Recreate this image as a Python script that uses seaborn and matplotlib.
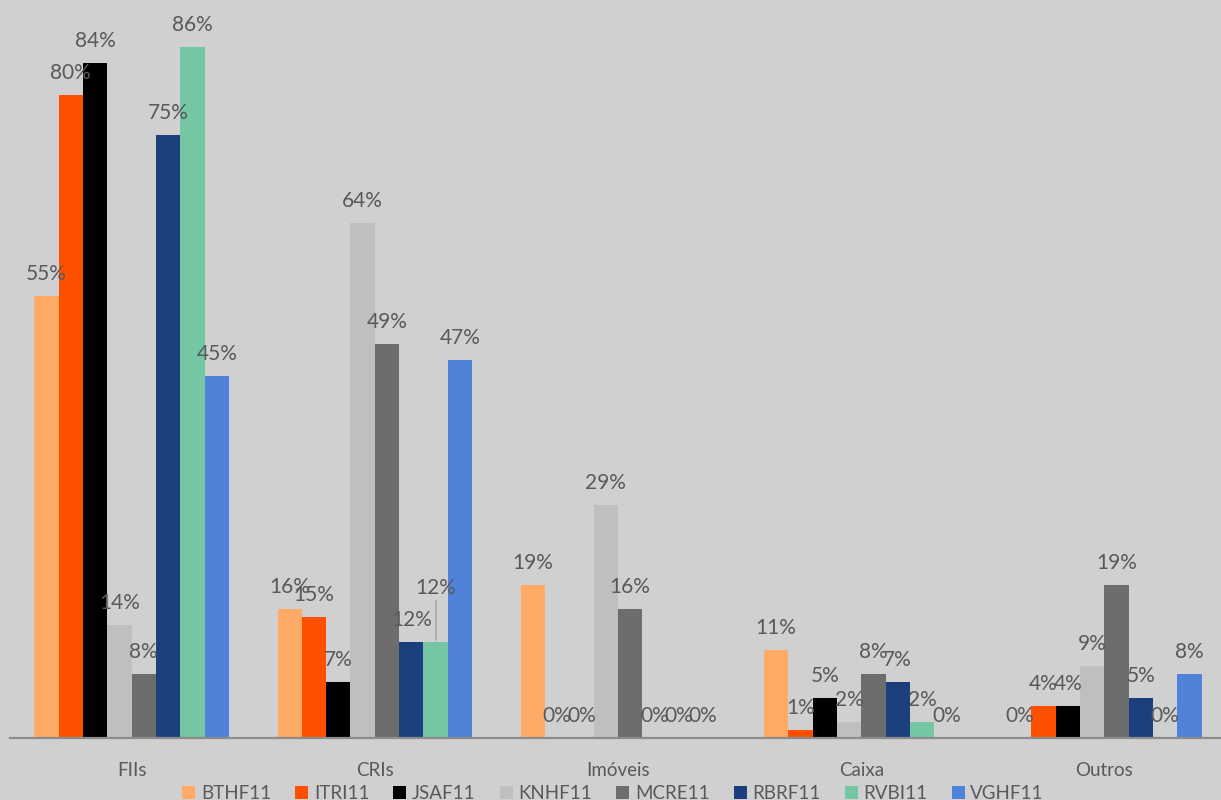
import matplotlib
matplotlib.use("Agg")
import matplotlib.pyplot as plt
from matplotlib.patches import Patch
import seaborn as sns
import pandas as pd

# Asset allocation (% of portfolio) for each fund, per asset class
categories = ["FIIs", "CRIs", "Imóveis", "Caixa", "Outros"]
funds = ["BTHF11", "ITRI11", "JSAF11", "KNHF11", "MCRE11", "RBRF11", "RVBI11", "VGHF11"]
BTHF11 = [55, 16, 19, 11, 0]
ITRI11 = [80, 15, 0, 1, 4]
JSAF11 = [84, 7, 0, 5, 4]
KNHF11 = [14, 64, 29, 2, 9]
MCRE11 = [8, 49, 16, 8, 19]
RBRF11 = [75, 12, 0, 7, 5]
RVBI11 = [86, 12, 0, 2, 0]
VGHF11 = [45, 47, 0, 0, 8]
series = [BTHF11, ITRI11, JSAF11, KNHF11, MCRE11, RBRF11, RVBI11, VGHF11]

colors = ["#FFAA66", "#FF5000", "#000000", "#BFBFBF",
          "#6D6D6D", "#1C3F7E", "#74C7A2", "#5182DA"]

bg = "#D0D0D0"
text_color = "#595959"

rows = []
for fund, vals in zip(funds, series):
    for cat, v in zip(categories, vals):
        rows.append({"Classe": cat, "Fundo": fund, "Valor": v})
df = pd.DataFrame(rows)

sns.set_theme(style="white")
plt.rcParams["font.family"] = ["Lato", "DejaVu Sans"]

W, H = 1221, 800
fig = plt.figure(figsize=(W / 100, H / 100), dpi=100)
fig.patch.set_facecolor(bg)
ax = fig.add_axes([10 / W, 62 / H, 1216 / W, 738 / H])
ax.set_facecolor(bg)

sns.barplot(data=df, x="Classe", y="Valor", hue="Fundo", order=categories,
            hue_order=funds, palette=colors, saturation=1, width=0.8,
            linewidth=0, ax=ax, legend=False)

ax.set_xlim(-0.5, 4.5)
ax.set_ylim(0, 738 / 8.04)

label_size = 15

# Value labels above every bar
for container, fund, vals in zip(ax.containers, funds, series):
    for j, (bar, v) in enumerate(zip(container, vals)):
        x = bar.get_x() + bar.get_width() / 2
        if fund == "RVBI11" and categories[j] == "CRIs":
            # label lifted clear of the neighbouring one, with a leader line
            ax.plot([x, x], [v + 0.2, 17.0], color="#A6A6A6", lw=1.2)
            ax.annotate(f"{v:.0f}%", (x, 17.0), xytext=(0, 5),
                        textcoords="offset points", ha="center", va="baseline",
                        fontsize=label_size, color=text_color)
        else:
            ax.annotate(f"{v:.0f}%", (x, v), xytext=(0, 11.5),
                        textcoords="offset points", ha="center", va="baseline",
                        fontsize=label_size, color=text_color)

# Axis styling: only the baseline with boundary ticks
for side in ["top", "left", "right"]:
    ax.spines[side].set_visible(False)
ax.spines["bottom"].set_color("#8C8C8C")
ax.spines["bottom"].set_linewidth(1.6)
ax.set_yticks([])
ax.set_xlabel("")
ax.set_ylabel("")
ax.set_xticks(range(len(categories)))
ax.set_xticklabels(categories, fontsize=13.5, color=text_color)
ax.tick_params(axis="x", which="major", length=0, pad=17)
ax.set_xticks([i - 0.5 for i in range(len(categories) + 1)], minor=True)
ax.tick_params(axis="x", which="minor", length=7, width=1.6, color="#8C8C8C",
               direction="out")

handles = [Patch(facecolor=c, edgecolor="none", label=f) for f, c in zip(funds, colors)]
leg = fig.legend(handles=handles, loc="lower center", bbox_to_anchor=(0.502, -0.024),
                 ncol=len(funds), frameon=False, fontsize=13.5, handlelength=0.7,
                 handleheight=0.7, handletextpad=0.3, columnspacing=1.28,
                 labelcolor=text_color)

fig.savefig("out.png", dpi=100, facecolor=bg)
